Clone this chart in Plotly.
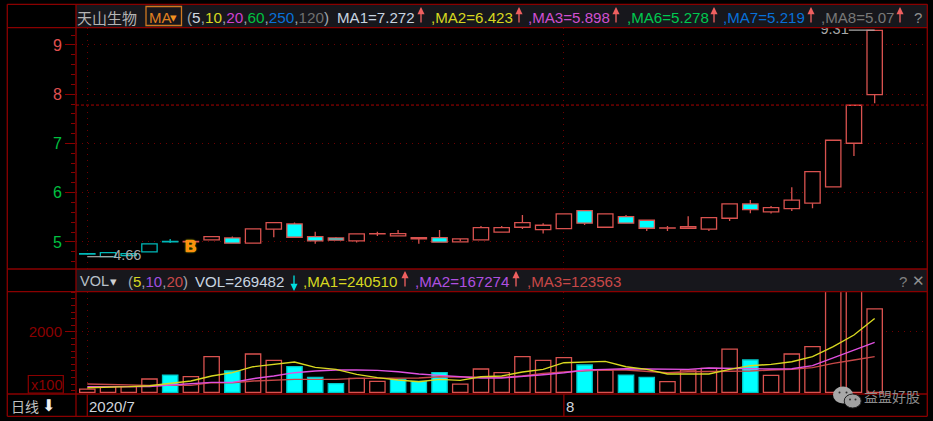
import plotly.graph_objects as go

W, H = 933, 421

# ---------- data ----------
dates = ["7/1","7/2","7/3","7/6","7/7","7/8","7/9","7/10","7/13","7/14","7/15","7/16","7/17",
         "7/20","7/21","7/22","7/23","7/24","7/27","7/28","7/29","7/30","7/31",
         "8/3","8/4","8/5","8/6","8/7","8/10","8/11","8/12","8/13","8/14","8/17","8/18","8/19","8/20","8/21","8/24"]
opens  = [4.752,4.702,4.722,4.797,5.002,5.002,5.108,5.081,5.264,5.392,5.365,5.108,5.081,
          5.020,5.162,5.169,5.087,5.087,5.061,5.041,5.197,5.298,5.250,
          5.270,5.636,5.298,5.514,5.440,5.282,5.278,5.258,5.481,5.772,5.609,5.676,5.786,6.117,7.004,7.991]
closes = [4.760,4.783,4.762,4.959,5.010,5.010,5.041,4.974,4.974,5.258,5.095,5.020,5.035,
          5.162,5.166,5.122,5.060,4.994,5.000,5.290,5.290,5.392,5.339,
          5.569,5.380,5.569,5.380,5.278,5.286,5.311,5.493,5.772,5.656,5.696,5.847,6.427,7.065,7.776,9.298]
highs  = [4.770,4.783,4.762,4.959,5.061,5.020,5.108,5.108,5.264,5.392,5.392,5.209,5.095,
          5.162,5.209,5.244,5.087,5.244,5.020,5.325,5.325,5.548,5.380,
          5.569,5.636,5.569,5.548,5.440,5.325,5.522,5.493,5.772,5.853,5.731,6.111,6.427,7.065,7.776,9.298]
lows   = [4.740,4.700,4.722,4.797,4.980,4.990,5.041,4.974,4.974,5.095,5.095,4.965,5.035,
          4.990,5.122,5.122,4.965,4.994,5.000,5.041,5.197,5.264,5.169,
          5.270,5.345,5.298,5.380,5.223,5.223,5.278,5.223,5.426,5.583,5.575,5.629,5.684,6.117,6.746,7.816]
body_styles = ["cyan_line","cyan_line","cyan_line","cyan_line","cyan_line","red","red","fill","red","red","fill",
               "fill","fill","red","red","red","red","fill","red","red","red","red","red",
               "red","fill","red","fill","fill","red","red","red","red","fill","red","red","red","red","red","red"]

volumes = [247,319,319,553,675,624,1236,798,1318,1124,930,604,410,573,482,543,482,747,400,859,747,
           1236,1124,1205,981,828,675,604,471,828,879,1470,1134,665,1318,1541,3290,3240,2695]
vol_down = [False,False,False,False,True,False,False,True,False,False,True,True,True,False,False,True,True,True,
            False,False,False,False,False,False,True,False,True,True,False,False,False,False,True,False,False,False,False,False,False]
ma5_vol  = [288,298,319,349,421,492,645,747,930,1012,1073,910,849,696,594,522,471,543,512,624,645,
            767,849,1052,1063,1093,930,849,706,706,706,849,961,1001,1083,1236,1541,1898,2405]
ma10_vol = [319,319,319,319,370,400,451,451,563,645,747,798,828,828,818,777,706,665,624,584,584,
            624,685,747,828,849,869,859,849,849,889,889,869,859,869,961,1205,1429,1673]
ma20_vol = [400,380,370,359,359,359,441,441,492,522,543,543,543,573,573,573,584,624,624,624,604,
            645,726,767,808,838,828,798,747,777,777,777,798,828,849,900,1032,1134,1236]

price_ticks = [5, 6, 7, 8, 9]
price_tick_colors = ["#00c040", "#00c040", "#00c040", "#e05050", "#e05050"]
vol_ticks = [2000]
last_close_line = 7.78
low_label, high_label = "4.66", "9.31"
VOL_BASE = 146
month_labels = [(0, "2020/7"), (23, "8")]

# ---------- style ----------
FRAME = "#8a0000"
RED = "#d9524f"
CYAN = "#00ffff"
TEAL = "#00b8b8"
HEAD = "#17171c"
FONT = "Liberation Sans"

n = len(dates)
idx = list(range(n))
x0_px, step_px = 87.3, 20.72
xrange_ = [(76 - x0_px) / step_px, (927.3 - x0_px) / step_px]

def px(x): return x / W
def py(y): return 1 - y / H

fig = go.Figure()

fill_col, line_col = [], []
for s in body_styles:
    if s == "cyan_line":
        fill_col.append("#000000"); line_col.append(TEAL)
    elif s == "fill":
        fill_col.append(CYAN); line_col.append(RED)
    else:
        fill_col.append("#000000"); line_col.append(RED)

# wicks
for col_key, col in (("cyan_line", TEAL), ("red", RED)):
    wx, wy = [], []
    for i in idx:
        is_cyan = body_styles[i] == "cyan_line"
        if is_cyan != (col_key == "cyan_line"):
            continue
        top, bot = max(opens[i], closes[i]), min(opens[i], closes[i])
        wx += [i, i, None, i, i, None]
        wy += [highs[i], top, None, bot, lows[i], None]
    fig.add_trace(go.Scatter(x=wx, y=wy, mode="lines", line=dict(color=col, width=1.3),
                             xaxis="x", yaxis="y", showlegend=False, hoverinfo="skip"))

# candle bodies
fig.add_trace(go.Bar(x=idx, y=[abs(c - o) for o, c in zip(opens, closes)],
                     base=[min(o, c) for o, c in zip(opens, closes)],
                     width=0.74, marker=dict(color=fill_col, line=dict(color=line_col, width=1.3)),
                     xaxis="x", yaxis="y", showlegend=False, hoverinfo="skip"))

# low / high labels
fig.add_trace(go.Scatter(x=[0, 1.25], y=[4.70, 4.70], mode="lines+text", text=["", low_label],
                         textposition="middle right", textfont=dict(color="#a8a8a8", size=14.5, family=FONT),
                         line=dict(color="#a8a8a8", width=1.2), xaxis="x", yaxis="y",
                         showlegend=False, hoverinfo="skip"))
fig.add_trace(go.Scatter(x=[38, 36.75], y=[9.30, 9.30], mode="lines+text", text=["", high_label],
                         textposition="middle left", textfont=dict(color="#a8a8a8", size=14.5, family=FONT),
                         line=dict(color="#a8a8a8", width=1.2), xaxis="x", yaxis="y", cliponaxis=True,
                         showlegend=False, hoverinfo="skip"))

# volume bars
fig.add_trace(go.Bar(x=idx, y=[v - VOL_BASE for v in volumes], base=[VOL_BASE] * n, width=0.74,
                     marker=dict(color=[CYAN if d else "#000000" for d in vol_down],
                                 line=dict(color=["#00c8c8" if d else RED for d in vol_down], width=1.3)),
                     xaxis="x2", yaxis="y2", showlegend=False, hoverinfo="skip"))
for series, col in ((ma20_vol, "#c84848"), (ma10_vol, "#e050e0"), (ma5_vol, "#d8d820")):
    fig.add_trace(go.Scatter(x=idx, y=series, mode="lines", line=dict(color=col, width=1.4),
                             xaxis="x2", yaxis="y2", showlegend=False, hoverinfo="skip"))

shapes = []
def hline(y, x0=7.3, x1=927.3, col=FRAME, w=1.3):
    shapes.append(dict(type="line", xref="paper", yref="paper", x0=px(x0), x1=px(x1), y0=py(y), y1=py(y),
                       line=dict(color=col, width=w), layer="above"))
def vline(x, y0, y1, col=FRAME, w=1.3):
    shapes.append(dict(type="line", xref="paper", yref="paper", x0=px(x), x1=px(x), y0=py(y0), y1=py(y1),
                       line=dict(color=col, width=w), layer="above"))
def band(y0, y1, x0=76, x1=927):
    # drawn above the traces: the header hides the top of the 9.31 label, as in the reference
    shapes.append(dict(type="rect", xref="paper", yref="paper", x0=px(x0), x1=px(x1), y0=py(y0), y1=py(y1),
                       fillcolor=HEAD, line=dict(width=0), layer="above"))

band(4.5, 27.5)
band(269, 291.5)
for y in (4.3, 27.7, 269, 291.7, 394, 416.3):
    hline(y)
vline(7.3, 4.3, 416.3)
vline(927.3, 4.3, 416.3)
vline(76, 4.3, 416.3)
for i, _ in month_labels:
    shapes.append(dict(type="line", xref="x2", yref="paper", x0=i, x1=i, y0=py(394), y1=py(416.3),
                       line=dict(color=FRAME, width=1.3), layer="above"))
# x100 box
shapes.append(dict(type="rect", xref="paper", yref="paper", x0=px(28.3), x1=px(63.3), y0=py(375.5), y1=py(393),
                   line=dict(color=FRAME, width=1.2), layer="above"))
# MA box
shapes.append(dict(type="rect", xref="paper", yref="paper", x0=px(146), x1=px(181.5), y0=py(6.5), y1=py(25.5),
                   line=dict(color="#d07820", width=1.3), layer="above"))
# last close dashed
shapes.append(dict(type="line", xref="paper", yref="y", x0=px(76), x1=px(927), y0=last_close_line, y1=last_close_line,
                   line=dict(color="#a80000", width=1, dash="3px,2px"), layer="above"))
# watermark icon
def ell(cx, cy, rx, ry, fill, line="rgba(0,0,0,0)"):
    shapes.append(dict(type="circle", xref="paper", yref="paper", x0=px(cx - rx), x1=px(cx + rx),
                       y0=py(cy + ry), y1=py(cy - ry), fillcolor=fill, line=dict(color=line, width=1), layer="above"))
ell(843, 395, 10, 8.5, "#a8a8a8")
ell(852.7, 401, 8.5, 7, "#a0a0a0", "#202020")
for cx, cy in ((839.5, 392.5), (846.5, 392.5), (850, 399.5), (855.5, 399.5)):
    ell(cx, cy, 1, 1, "#303030")

annots = []
def txt(x, y, s, col="#c8d0d8", size=15.1, anchor="left", family=FONT):
    annots.append(dict(xref="paper", yref="paper", x=px(x), y=py(y), text=s, showarrow=False,
                       xanchor=anchor, yanchor="middle", align="left",
                       font=dict(color=col, size=size, family=family), borderpad=0, borderwidth=0))

def arrow(x, head_y, tail_y, col):
    annots.append(dict(xref="paper", yref="paper", x=px(x), y=py(head_y), text="", showarrow=True,
                       ax=0, ay=tail_y - head_y, arrowhead=2, arrowsize=1.1, arrowwidth=1.3, arrowcolor=col,
                       standoff=0, startstandoff=0))

def sp(s, c): return f'<span style="color:{c}">{s}</span>'

Y1, Y2 = 17, 281
UP, DOWN = "#f06060", "#00e0e0"
txt(77, Y1, "天山生物", "#b4b4b4", 15, family="Noto Sans CJK SC")
txt(149, Y1, "MA", "#e08020", 15)
txt(170, Y1 + 0.5, "▾", "#f09020", 13, family="DejaVu Sans")
grey = "#a0a8b0"
txt(187, Y1, sp("(", grey) + sp("5", "#d0d8e0") + sp(",", grey) + sp("10", "#d8d820") + sp(",", grey)
    + sp("20", "#d040d0") + sp(",", grey) + sp("60", "#00c040") + sp(",", grey) + sp("250", "#0870d8")
    + sp(",", grey) + sp("120", "#707070") + sp(")", grey), size=15.3)
txt(337, Y1, "MA1=7.272", "#c8d4e0")
txt(431, Y1, ",MA2=6.423", "#d8d820")
txt(528, Y1, ",MA3=5.898", "#d050d0")
txt(627, Y1, ",MA6=5.278", "#00c850")
txt(723, Y1, ",MA7=5.219", "#0870d8")
txt(821, Y1, ",MA8=5.07", "#787878")
for ax in (421, 519, 616, 714, 811, 900):
    arrow(ax, 7, 24, UP)
txt(918, Y1, "?", "#909090", 15, "center")

txt(80, Y2, "VOL", "#b8c0c8", 14.5)
txt(110, Y2 + 0.5, "▾", "#d0d0d0", 13, family="DejaVu Sans")
txt(127.5, Y2, sp("(", grey) + sp("5", "#d8d820") + sp(",", grey) + sp("10", "#a050e0") + sp(",", grey)
    + sp("20", "#c84848") + sp(")", grey), size=15)
txt(195, Y2, "VOL=269482", "#c8d4e0", 15.1)
arrow(294, 291, 274, DOWN)
txt(303, Y2, ",MA1=240510", "#d8d820", 15.1)
arrow(405, 271, 288, UP)
txt(415, Y2, ",MA2=167274", "#b050e0", 15.1)
arrow(516, 271, 288, UP)
txt(527, Y2, ",MA3=123563", "#c84848", 15.1)
txt(902.7, Y2, "?", "#808080", 15, "center")
txt(918, Y2, "✕", "#909090", 15, "center", "DejaVu Sans")

txt(30.5, 384.5, "x100", "#8a0000", 14.5)
txt(11, 406, "日线", "#c0c0c0", 14, family="Noto Sans CJK SC")
txt(48, 405.5, "⬇", "#f0f0f0", 16, "center", "DejaVu Sans")
txt(864, 396, "益盟好股", "#8c8c8c", 14, family="Noto Sans CJK SC")

for i, lab in month_labels:
    annots.append(dict(xref="x2", yref="paper", x=i, y=py(406), text=lab, showarrow=False, xanchor="left",
                       yanchor="middle", xshift=0, font=dict(color="#d0d4dc", size=15, family=FONT)))

# B marker
annots.append(dict(xref="x", yref="y", x=5, y=4.90, text="<b>B</b>", showarrow=False, xanchor="center", yanchor="middle",
                   font=dict(color="#ff8c10", size=16, family=FONT, shadow="0 0 1px #ffe000, 0 0 2px #ffe000")))

fig.update_layout(
    width=W, height=H, autosize=False, margin=dict(l=0, r=0, t=0, b=0),
    paper_bgcolor="#000000", plot_bgcolor="#000000", showlegend=False, barmode="overlay",
    font=dict(family=FONT, color="#c0c0c0"),
    shapes=shapes, annotations=annots,
    xaxis=dict(domain=[px(76), px(927.3)], range=xrange_, anchor="y", tickvals=[i for i, _ in month_labels],
               showticklabels=False, ticks="", zeroline=False, showline=False,
               showgrid=True, gridcolor="#6e0000", griddash="1px,5px", gridwidth=1),
    yaxis=dict(domain=[py(269), py(28)], range=[4.45, 9.345], anchor="x",
               tickvals=price_ticks,
               ticktext=[sp(t, c) for t, c in zip(price_ticks, price_tick_colors)],
               tickfont=dict(size=16, family=FONT), ticks="outside", ticklen=10, tickcolor=FRAME, tickwidth=1.3,
               minor=dict(dtick=0.2, ticks="outside", ticklen=4, tickcolor=FRAME, tickwidth=1.3, showgrid=False),
               zeroline=False, showline=False, showgrid=True, gridcolor="#6e0000", griddash="1px,5px", gridwidth=1),
    xaxis2=dict(domain=[px(76), px(927.3)], range=xrange_, anchor="y2", tickvals=[i for i, _ in month_labels],
                showticklabels=False, ticks="", zeroline=False, showline=False,
                showgrid=True, gridcolor="#6e0000", griddash="1px,5px", gridwidth=1),
    yaxis2=dict(domain=[py(394), py(291.7)], range=[95, 3223], anchor="x2",
                tickvals=vol_ticks, ticktext=[str(t) for t in vol_ticks],
                tickfont=dict(size=15, family=FONT, color="#8a0000"), ticks="outside", ticklen=10,
                tickcolor=FRAME, tickwidth=1.3,
                minor=dict(dtick=200, ticks="outside", ticklen=4, tickcolor=FRAME, tickwidth=1.3, showgrid=False),
                zeroline=False, showline=False, showgrid=True, gridcolor="#6e0000", griddash="1px,5px", gridwidth=1),
)

fig.write_html("out.html", config={"displayModeBar": False},
               post_script="document.body.style.margin='0';document.body.style.background='#000';document.body.style.overflow='hidden';")
